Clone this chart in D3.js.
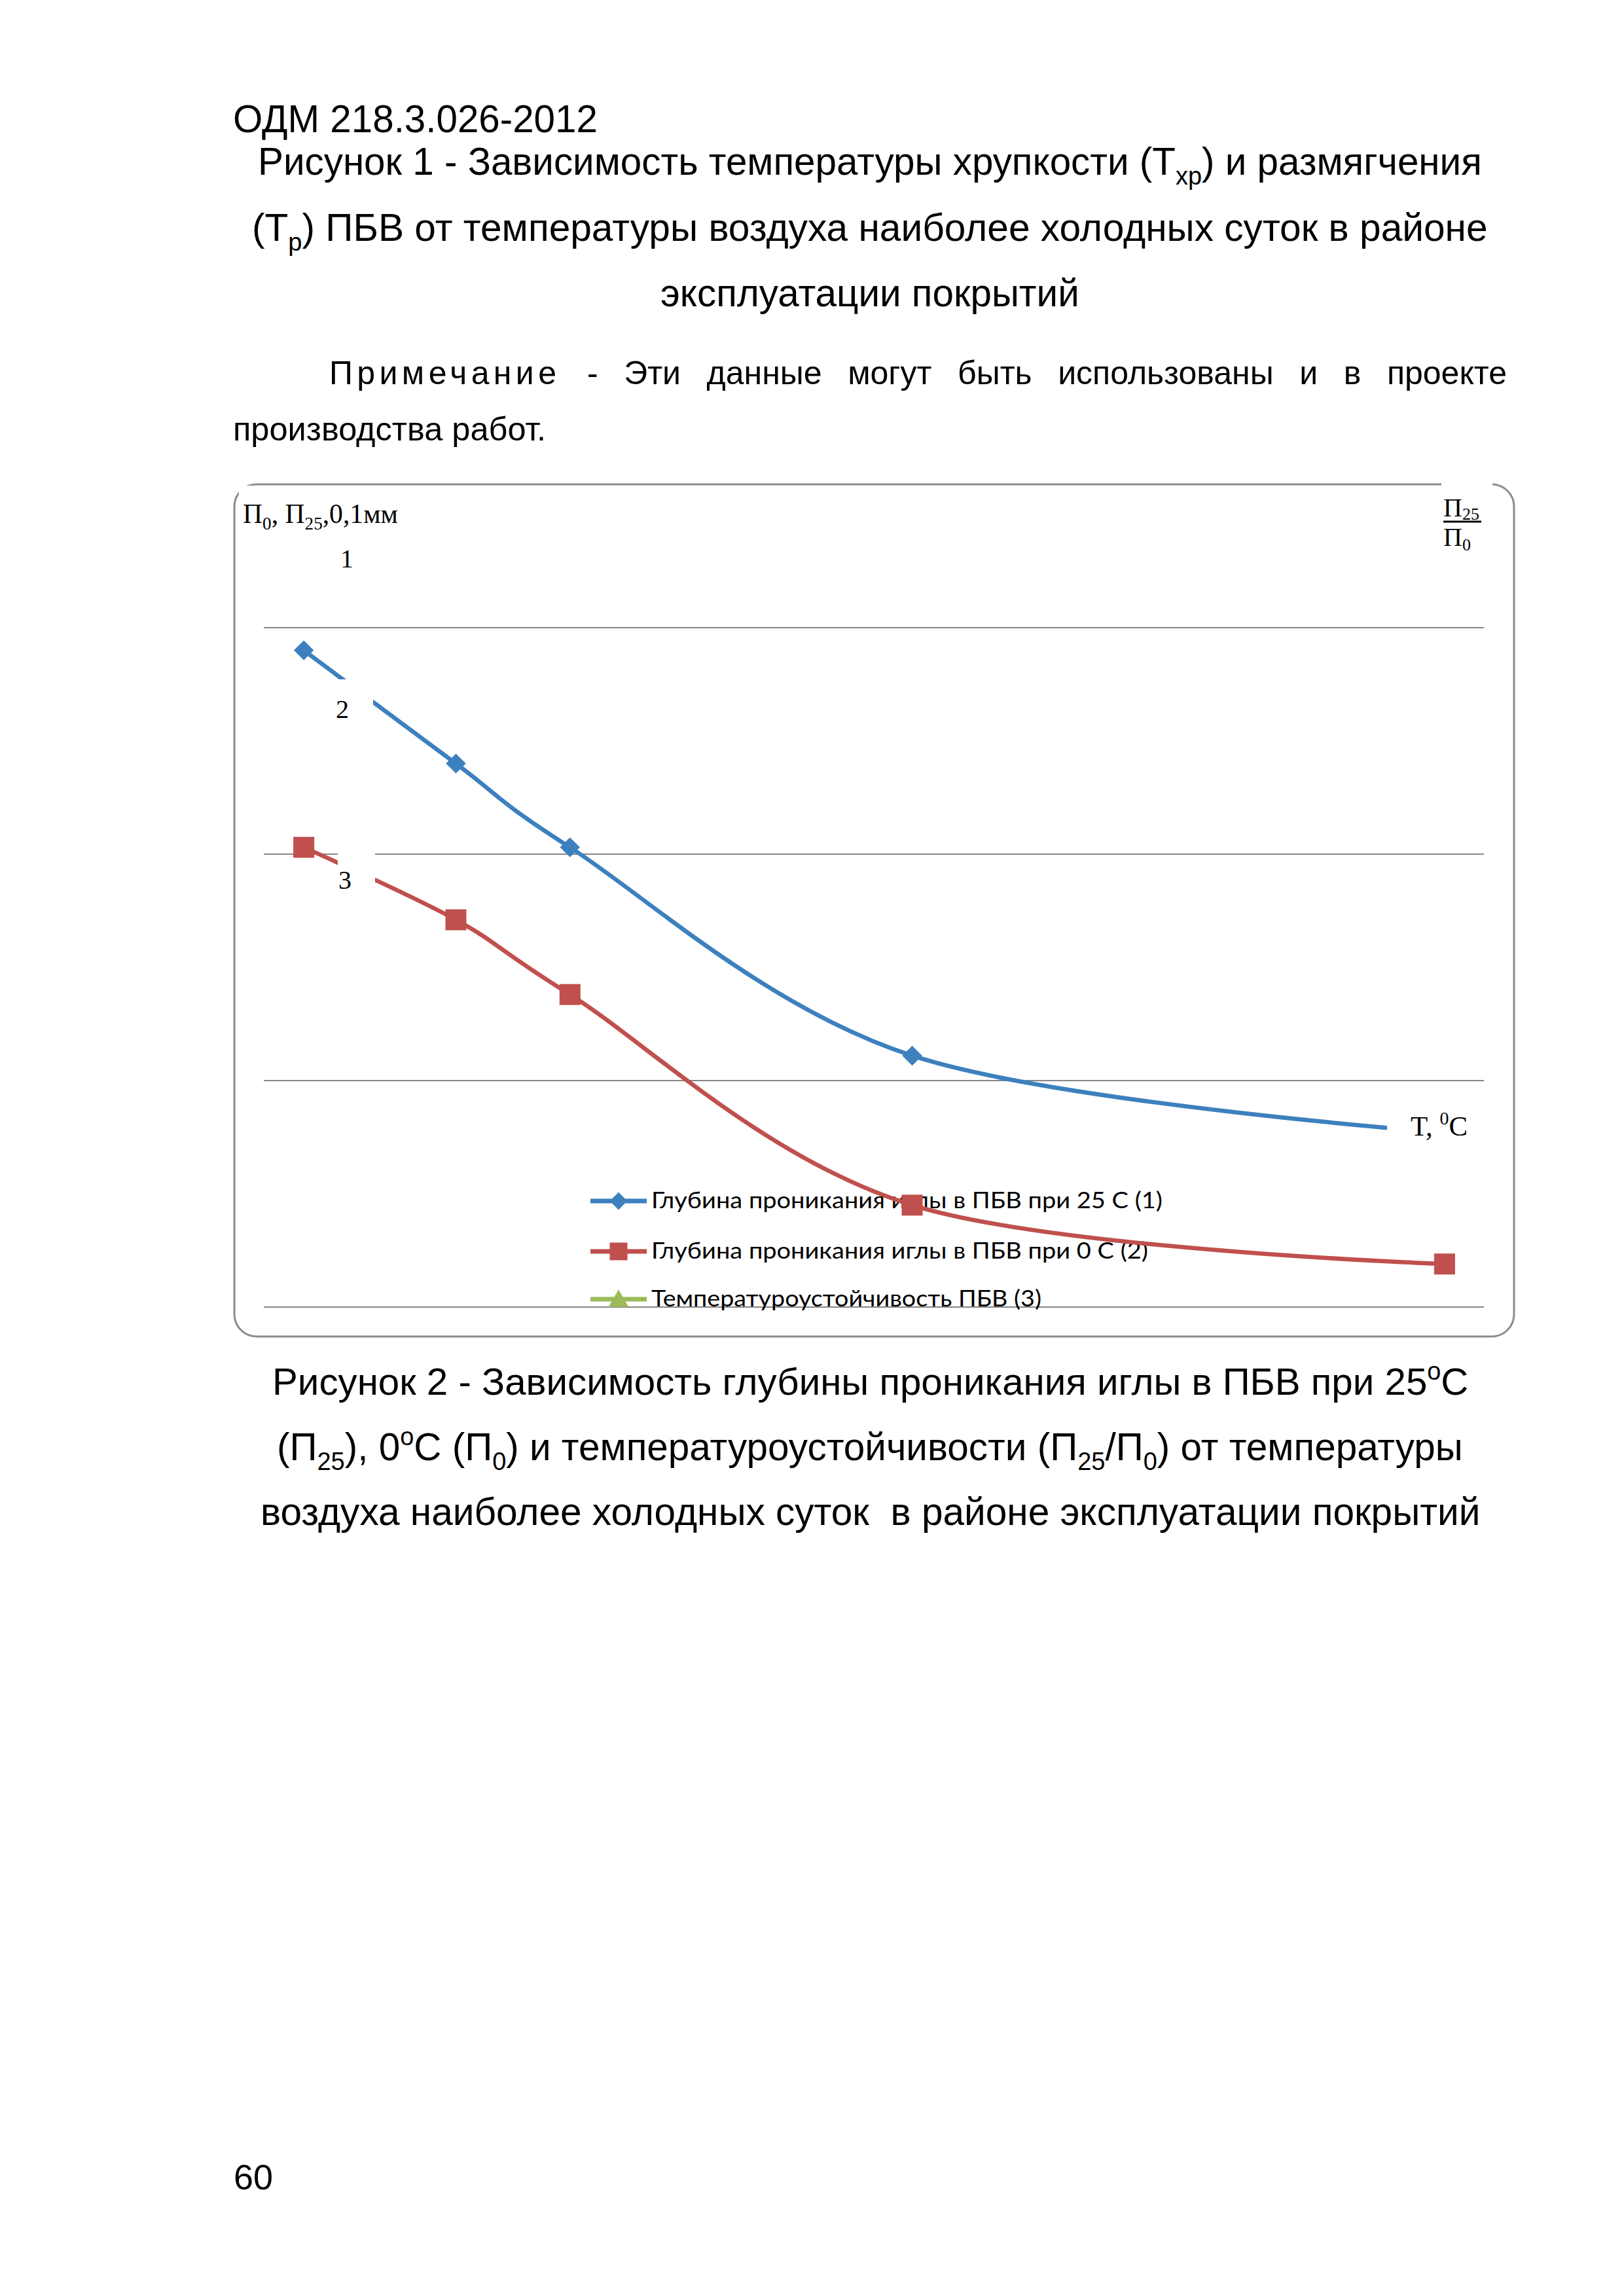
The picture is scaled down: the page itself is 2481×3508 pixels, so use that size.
<!DOCTYPE html>
<html>
<head>
<meta charset="utf-8">
<script src="https://cdn.jsdelivr.net/npm/d3@7"></script>
<style>
  html, body { margin: 0; padding: 0; background: #ffffff; }
  svg { display: block; }
</style>
</head>
<body>
<script>
// ---------------- DATA ----------------
const temperatures = [-52, -48, -45, -36, -22];          // T, °C (x values)
const penetration25 = [290, 240, 203, 111, 77];          // П25, 0.1 мм (series 1)
const penetration0  = [203, 171, 138, 45, 19];           // П0, 0.1 мм (series 2)
const stabilityRatio = [];                               // П25/П0 (series 3, not plotted – legend only)
const yGridValues = [0, 100, 200, 300];
const legendLabels = [
  "Глубина проникания иглы в ПБВ при 25 С (1)",
  "Глубина проникания иглы в ПБВ при 0 С (2)",
  "Температуроустойчивость ПБВ (3)"
];
const curveLabels = ["1", "2", "3"];

// ---------------- SETUP ----------------
const W = 2481, H = 3508;
const svg = d3.select("body").append("svg").attr("width", W).attr("height", H)
  .attr("viewBox", `0 0 ${W} ${H}`);
svg.append("rect").attr("width", W).attr("height", H).attr("fill", "#fff");

const SANS = "'Liberation Sans', Arial, sans-serif";
const SERIF = "'Liberation Serif', 'Times New Roman', serif";
const LEG = "Lato, 'Open Sans', sans-serif";

function rich(parent, x, y, parts, font, size, subOff) {
  const so = subOff === undefined ? 0.25 : subOff;
  const t = parent.append("text").attr("x", x).attr("y", y)
    .attr("font-family", font).attr("font-size", size).attr("fill", "#000")
    .style("white-space", "pre");
  let cur = 0;
  parts.forEach(p => {
    const s = typeof p === "string" ? p : p[0];
    const k = typeof p === "string" ? "n" : p[1];
    const off = k === "sub" ? so * size : k === "sup" ? -0.40 * size : 0;
    const ts = t.append("tspan").text(s).attr("dy", off - cur);
    if (k !== "n") ts.attr("font-size", size * 0.65);
    cur = off;
  });
  return t;
}
function richFit(parent, x, y, parts, font, base, targetW) {
  const t0 = rich(parent, x, y, parts, font, base);
  const w = t0.node().getBBox().width;
  t0.remove();
  return rich(parent, x, y, parts, font, base * targetW / w);
}

// ---------------- PAGE TEXT ----------------
const page = svg.append("g");
richFit(page, 356, 202, ["ОДМ 218.3.026-2012"], SANS, 58, 557);
richFit(page, 394, 267, ["Рисунок 1 - Зависимость температуры хрупкости (Т", ["хр", "sub"], ") и размягчения"], SANS, 58, 1870);
richFit(page, 385, 368, ["(Т", ["р", "sub"], ") ПБВ от температуры воздуха наиболее холодных суток в районе"], SANS, 58, 1888);
richFit(page, 1009, 468, ["эксплуатации покрытий"], SANS, 58, 640);

// note paragraph, justified first line
(function () {
  const fs = 50, y = 587;
  const first = page.append("text").attr("x", 503).attr("y", y)
    .attr("font-family", SANS).attr("font-size", fs).text("Примечание");
  const w0 = first.node().getComputedTextLength();
  first.attr("letter-spacing", (347 - w0) / 9);
  const words = "- Эти данные могут быть использованы и в проекте".split(" ");
  const nodes = words.map(wd => page.append("text").attr("y", y)
    .attr("font-family", SANS).attr("font-size", fs).text(wd));
  const widths = nodes.map(n => n.node().getComputedTextLength());
  const x0 = 897, x1 = 2302;
  const gap = (x1 - x0 - d3.sum(widths)) / (words.length - 1);
  let xx = x0;
  nodes.forEach((n, i) => { n.attr("x", xx); xx += widths[i] + gap; });
  richFit(page, 356, 673, ["производства работ."], SANS, fs, 478);
})();

richFit(page, 416, 2131, ["Рисунок 2 - Зависимость глубины проникания иглы в ПБВ при 25", ["o", "sup"], "С"], SANS, 58, 1828);
richFit(page, 423, 2231, ["(П", ["25", "sub"], "), 0", ["o", "sup"], "С (П", ["0", "sub"], ") и температуроустойчивости (П", ["25", "sub"], "/П", ["0", "sub"], ") от температуры"], SANS, 58, 1812);
richFit(page, 398, 2330, ["воздуха наиболее холодных суток  в районе эксплуатации покрытий"], SANS, 58, 1864);
richFit(page, 357, 3345, ["60"], SANS, 54, 60);

// ---------------- CHART ----------------
const chart = svg.append("g");
// frame
chart.append("rect").attr("x", 358).attr("y", 740).attr("width", 1955).attr("height", 1302)
  .attr("rx", 34).attr("ry", 34).attr("fill", "#fff").attr("stroke", "#8c8c8c").attr("stroke-width", 3);

const plotL = 403, plotR = 2267;
const x = d3.scaleLinear().domain([-53, -21]).range([406, 2265]);
const y = d3.scaleLinear().domain([0, 300]).range([1997, 959]);

// gridlines (y axis without labels)
chart.append("g").selectAll("line").data(yGridValues).join("line")
  .attr("x1", plotL).attr("x2", plotR)
  .attr("y1", d => y(d)).attr("y2", d => y(d))
  .attr("stroke", "#868686").attr("stroke-width", 2);

// legend
const legendColors = ["#3d80be", "#c0504d", "#9bbb59"];
const legendY = [1835, 1912, 1985];
const legendTextLen = [781, 759, 596];
const lg = chart.append("g");
legendLabels.forEach((lab, i) => {
  lg.append("line").attr("x1", 902).attr("x2", 988).attr("y1", legendY[i]).attr("y2", legendY[i])
    .attr("stroke", legendColors[i]).attr("stroke-width", 7);
  const sym = [d3.symbolSquare, d3.symbolSquare, d3.symbolTriangle][i];
  const sz = [19 * 19, 27 * 27, 26 * 26 * 0.6][i];
  lg.append("path").attr("d", d3.symbol().type(sym).size(sz)())
    .attr("transform", `translate(945,${legendY[i] + (i === 2 ? 3 : 0)})` + (i === 0 ? " rotate(45)" : ""))
    .attr("fill", legendColors[i]);
  lg.append("text").attr("x", 995).attr("y", legendY[i] + 11)
    .attr("font-family", LEG).attr("font-size", 34).attr("fill", "#000")
    .attr("textLength", legendTextLen[i]).attr("lengthAdjust", "spacingAndGlyphs")
    .text(lab);
});

// series
const line = d3.line().x(d => x(d[0])).y(d => y(d[1])).curve(d3.curveCardinal.tension(0));
const s1 = temperatures.map((t, i) => [t, penetration25[i]]);
const s2 = temperatures.map((t, i) => [t, penetration0[i]]);

chart.append("path").datum(s1).attr("d", line).attr("fill", "none")
  .attr("stroke", "#3d80be").attr("stroke-width", 6.5);
chart.append("path").datum(s2).attr("d", line).attr("fill", "none")
  .attr("stroke", "#c0504d").attr("stroke-width", 6.5);

chart.append("g").selectAll("path").data(s1).join("path")
  .attr("d", d3.symbol().type(d3.symbolSquare).size(21.5 * 21.5)())
  .attr("transform", d => `translate(${x(d[0])},${y(d[1])}) rotate(45)`)
  .attr("fill", "#3d80be");
chart.append("g").selectAll("rect").data(s2).join("rect")
  .attr("x", d => x(d[0]) - 16).attr("y", d => y(d[1]) - 16)
  .attr("width", 32).attr("height", 32).attr("fill", "#c0504d");

// label boxes (white backgrounds that hide lines)
const boxes = [
  [365, 742, 250, 72],     // y-axis title
  [508, 830, 62, 60],      // "1"
  [508, 1038, 62, 80],     // "2"
  [516, 1298, 57, 80],     // "3"
  [2119, 1684, 140, 76],   // T, °C
  [2202, 733, 78, 115]     // П25/П0
];
chart.append("g").selectAll("rect").data(boxes).join("rect")
  .attr("x", d => d[0]).attr("y", d => d[1]).attr("width", d => d[2]).attr("height", d => d[3])
  .attr("fill", "#fff");

const lab = chart.append("g");
richFit(lab, 371, 799, ["П", ["0", "sub"], ", П", ["25", "sub"], ",0,1мм"], SERIF, 42, 237);
const labelPos = [[520, 867], [513, 1097], [517, 1358]];
curveLabels.forEach((c, i) => {
  lab.append("text").attr("x", labelPos[i][0]).attr("y", labelPos[i][1])
    .attr("font-family", SERIF).attr("font-size", 40).attr("fill", "#000").text(c);
});
richFit(lab, 2155, 1735, ["T, ", ["0", "sup"], "C"], SERIF, 44, 87);
// fraction П25 / П0
const fr = lab.append("g");
rich(fr, 2205, 789, ["П", ["25", "sub"]], SERIF, 40, 0.12);
fr.append("line").attr("x1", 2205).attr("x2", 2263).attr("y1", 797).attr("y2", 797)
  .attr("stroke", "#000").attr("stroke-width", 3);
rich(fr, 2205, 834, ["П", ["0", "sub"]], SERIF, 40, 0.18);
</script>
</body>
</html>
